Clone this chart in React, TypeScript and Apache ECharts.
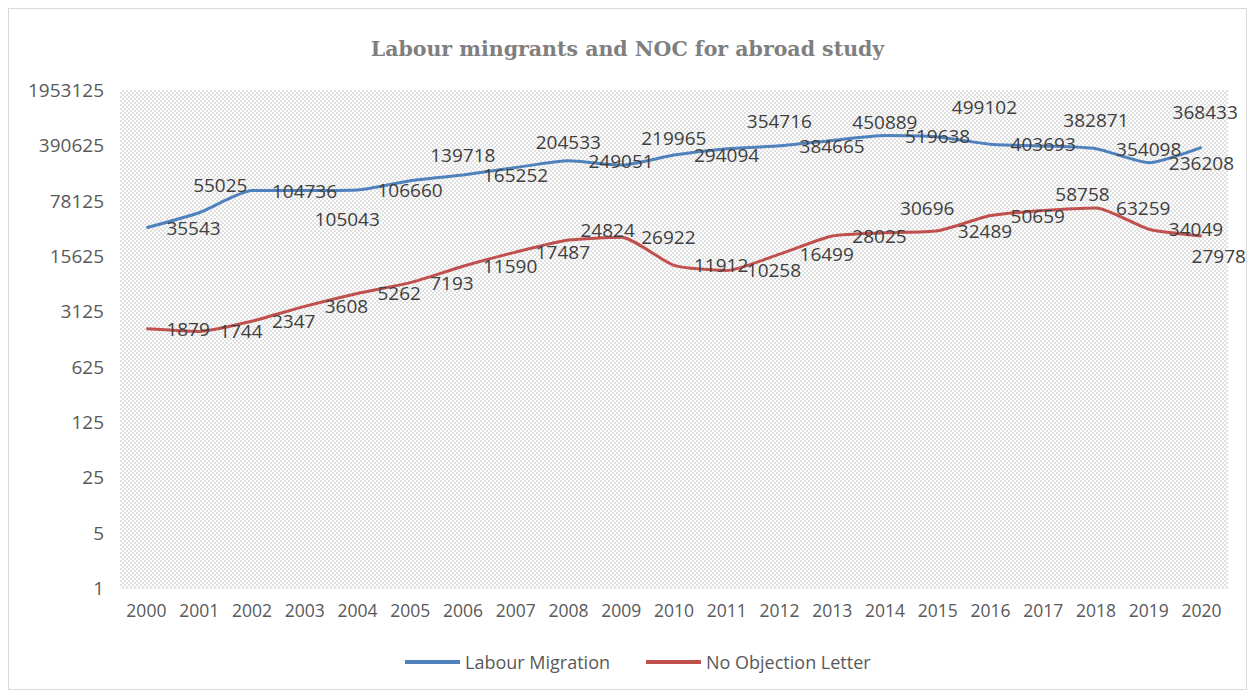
import React, { useEffect, useRef } from "react";
import * as echarts from "echarts";

const years = ["2000", "2001", "2002", "2003", "2004", "2005", "2006", "2007", "2008", "2009", "2010",
  "2011", "2012", "2013", "2014", "2015", "2016", "2017", "2018", "2019", "2020"];

const labourMigration = [35543, 55025, 104736, 105043, 106660, 139718, 165252, 204533, 249051, 219965,
  294094, 354716, 384665, 450889, 519638, 499102, 403693, 382871, 354098, 236208, 368433];

const noObjectionLetter = [1879, 1744, 2347, 3608, 5262, 7193, 11590, 17487, 24824, 26922,
  11912, 10258, 16499, 28025, 30696, 32489, 50659, 58758, 63259, 34049, 27978];

const titleText = "Labour mingrants and NOC for abroad study";
const seriesNames = ["Labour Migration", "No Objection Letter"];

// label placement nudges (layout only)
const blueNudge: [number, number][] = [
  [0, 0], [-26, -28], [0, 0], [-10, 29], [0, 0], [0, -26], [0, 0], [0, -26], [0, 0], [0, -27], [0, 0],
  [0, -28], [0, 0], [0, -18], [0, 0], [-6, -30], [0, 0], [0, -26], [0, 0], [0, 0], [-49, -35]];
const redNudge: [number, number][] = [
  [0, 0], [0, 0], [0, 0], [0, 0], [0, 0], [0, 0], [0, 0], [0, 0], [-8, -10], [0, 0], [0, 0],
  [0, 0], [0, 0], [0, 0], [-5, -25], [0, 0], [0, 0], [-8, -16], [0, 0], [0, 0], [-30, 20]];

function makeHatch() {
  const c = document.createElement("canvas");
  c.width = 4;
  c.height = 4;
  const ctx = c.getContext("2d")!;
  ctx.fillStyle = "#ffffff";
  ctx.fillRect(0, 0, 4, 4);
  ctx.fillStyle = "#e0e0e0";
  for (let i = 0; i < 4; i++) {
    ctx.fillRect(i, i, 1, 1);
    ctx.fillRect(i, 3 - i, 1, 1);
  }
  return c;
}

export default function App() {
  const ref = useRef<HTMLDivElement>(null);
  useEffect(() => {
    if (!ref.current) return;
    const chart = echarts.init(ref.current, undefined, { renderer: "svg" });
    const font = "'Open Sans', 'Noto Sans', sans-serif";
    const mkData = (vals: number[], nudge: [number, number][]) =>
      vals.map((v, i) => ({ value: v, label: { offset: nudge[i] } }));
    chart.setOption({
      animation: false,
      backgroundColor: "#ffffff",
      title: {
        text: titleText,
        left: "center",
        top: 24,
        textStyle: {
          fontFamily: "'DejaVu Serif', serif",
          fontWeight: "bold",
          fontSize: 20.5,
          color: "#7f7f7f",
        },
      },
      legend: {
        left: 391,
        top: 639,
        itemWidth: 55,
        itemHeight: 4,
        itemGap: 36,
        icon: "rect",
        textStyle: { fontFamily: font, fontSize: 18, color: "#595959" },
        data: seriesNames,
      },
      grid: {
        left: 111,
        right: 18,
        top: 81,
        bottom: 101,
        show: true,
        borderWidth: 0,
        backgroundColor: { image: makeHatch(), repeat: "repeat", imageWidth: 4, imageHeight: 4 },
      },
      xAxis: {
        type: "category",
        data: years,
        boundaryGap: true,
        axisLine: { show: true, lineStyle: { color: "#ececec", width: 1 } },
        axisTick: { show: false },
        axisLabel: { fontFamily: font, fontSize: 17.5, color: "#595959", margin: 13 },
      },
      yAxis: {
        type: "log",
        logBase: 5,
        min: 1,
        max: 1953125,
        splitNumber: 5,
        axisLine: { show: false },
        axisTick: { show: false },
        splitLine: { show: false },
        axisLabel: {
          fontFamily: font,
          fontSize: 19,
          color: "#595959",
          margin: 16,
          formatter: (v: number) => String(Math.round(v)),
        },
      },
      series: [
        {
          name: seriesNames[0],
          type: "line",
          data: mkData(labourMigration, blueNudge),
          smooth: 0.2,
          symbol: "circle",
          symbolSize: 0,
          showSymbol: true,
          itemStyle: { color: "#4f81bd" },
          lineStyle: { color: "#4f81bd", width: 3 },
          label: {
            show: true,
            position: "right",
            distance: 20,
            fontFamily: font,
            fontSize: 19,
            color: "#404040",
            formatter: "{c}",
          },
          z: 3,
        },
        {
          name: seriesNames[1],
          type: "line",
          data: mkData(noObjectionLetter, redNudge),
          smooth: 0.2,
          symbol: "circle",
          symbolSize: 0,
          showSymbol: true,
          itemStyle: { color: "#c0504d" },
          lineStyle: { color: "#c0504d", width: 3 },
          label: {
            show: true,
            position: "right",
            distance: 20,
            fontFamily: font,
            fontSize: 19,
            color: "#404040",
            formatter: "{c}",
          },
          z: 3,
        },
      ],
    });
    return () => chart.dispose();
  }, []);
  return (
    <div
      ref={ref}
      style={{ width: 1237, height: 680, border: "1px solid #d9d9d9" }}
    />
  );
}
